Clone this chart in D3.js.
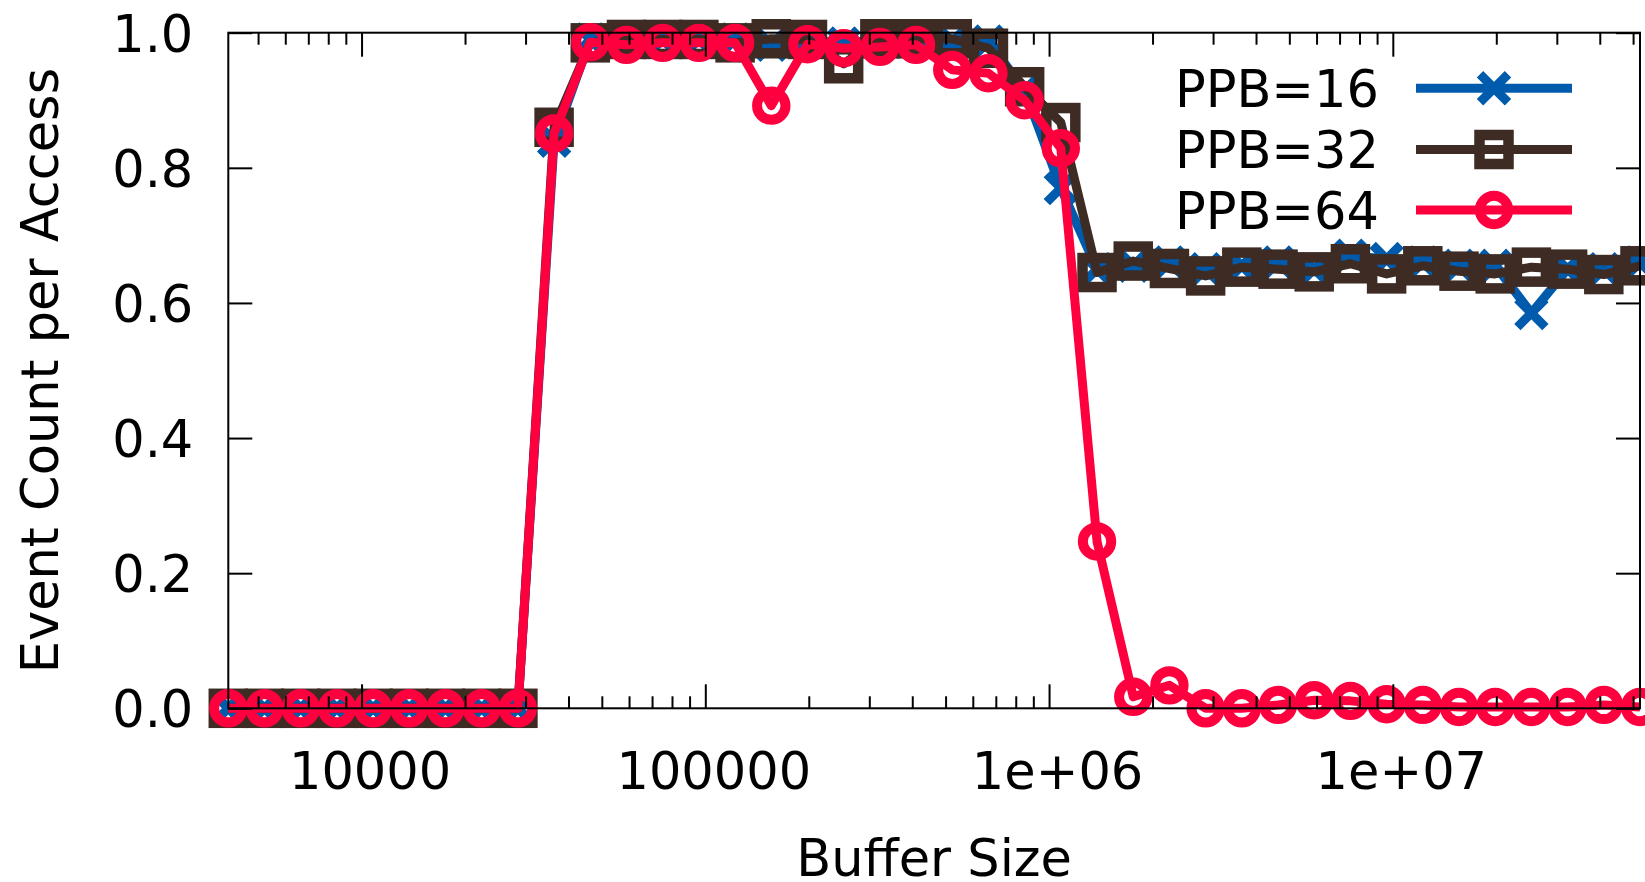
<!DOCTYPE html>
<html>
<head>
<meta charset="utf-8">
<script src="https://cdn.jsdelivr.net/npm/d3@7"></script>
<style>
  body { margin: 0; background: #fff; }
  text { font-family: "DejaVu Sans", sans-serif; }
</style>
</head>
<body>
<div id="chart"></div>
<script>
// buffer sizes (x)
const sizes = [4096, 5219, 6653, 8479, 10804, 13767, 17545, 22360, 28500, 36320,
  46280, 58980, 75160, 95790, 122080, 155570, 198250, 252650, 321960, 410300,
  522880, 666340, 849180, 1082000, 1379000, 1757500, 2239700, 2854000, 3637000, 4636000,
  5907000, 7528000, 9594000, 12226000, 15581000, 19856000, 25304000, 32250000, 41100000, 52370000];

const ppb16 = [0, 0, 0, 0, 0, 0, 0, 0, 0, 0.84,
  0.99, 0.99, 0.99, 0.99, 0.99, 0.982, 0.99, 0.984, 0.99, 0.99,
  0.987, 0.987, 0.915, 0.77, 0.65, 0.655, 0.66, 0.65, 0.655, 0.66,
  0.65, 0.67, 0.665, 0.66, 0.655, 0.655, 0.585, 0.65, 0.65, 0.66];

const ppb32 = [0, 0, 0, 0, 0, 0, 0, 0, 0, 0.86,
  0.985, 0.99, 0.99, 0.99, 0.985, 0.991, 0.99, 0.954, 0.991, 0.991,
  0.991, 0.977, 0.92, 0.867, 0.645, 0.662, 0.651, 0.64, 0.653, 0.65,
  0.646, 0.658, 0.643, 0.655, 0.647, 0.643, 0.653, 0.65, 0.642, 0.655];

const ppb64 = [0, 0, 0, 0, 0, 0, 0, 0, 0, 0.851,
  0.986, 0.982, 0.985, 0.985, 0.985, 0.892, 0.983, 0.977, 0.979, 0.982,
  0.945, 0.94, 0.9, 0.829, 0.247, 0.017, 0.034, 0, 0, 0.005,
  0.012, 0.011, 0.006, 0.005, 0.002, 0.002, 0.002, 0.002, 0.005, 0.002];

const seriesNames = ["PPB=16", "PPB=32", "PPB=64"];
const seriesColors = ["#005bac", "#3d2b24", "#ff003f"];
const seriesMarks = ["cross", "square", "circle"];
const xMajor = [1e4, 1e5, 1e6, 1e7];
const yTicks = [0, 0.2, 0.4, 0.6, 0.8, 1.0];

const width = 1645,
  height = 882;
const margin = { top: 32.7, right: 5, bottom: 173.7, left: 228.3 };

const svg = d3.select("#chart").append("svg").attr("width", width).attr("height", height);

const x = d3.scaleLog().domain([sizes[0], sizes[sizes.length - 1]]).range([margin.left, width - margin.right]);
const y = d3.scaleLinear().domain([0, 1]).range([height - margin.bottom, margin.top]);

// minor ticks 2..9 per decade inside the domain
const xMinor = [];
for (let e = 3; e <= 7; e++) {
  for (let m = 2; m <= 9; m++) {
    const v = m * Math.pow(10, e);
    if (v >= sizes[0] && v <= sizes[sizes.length - 1]) xMinor.push(v);
  }
}

const fontSize = 51;

// data first, border drawn on top like gnuplot does
const plot = svg.append("g");
const series = [ppb16, ppb32, ppb64];

const line = d3.line().x((d, i) => x(sizes[i])).y(d => y(d));

function drawMark(g, type, color) {
  if (type === "circle") {
    g.append("circle").attr("r", 14.2).attr("fill", "none").attr("stroke", color).attr("stroke-width", 10);
  } else if (type === "square") {
    g.append("rect").attr("x", -14.5).attr("y", -14.5).attr("width", 29).attr("height", 29)
      .attr("fill", "none").attr("stroke", color).attr("stroke-width", 10.5);
  } else {
    g.append("path").attr("d", "M-14,-14L14,14M-14,14L14,-14").attr("fill", "none")
      .attr("stroke", color).attr("stroke-width", 9);
  }
}

series.forEach((vals, s) => {
  const color = seriesColors[s];
  plot.append("path")
    .datum(vals)
    .attr("d", line)
    .attr("fill", "none")
    .attr("stroke", color)
    .attr("stroke-width", 9)
    .attr("stroke-linejoin", "round");

  plot.selectAll(null)
    .data(vals)
    .join("g")
    .attr("transform", (d, i) => `translate(${x(sizes[i])},${y(d)})`)
    .each(function () { drawMark(d3.select(this), seriesMarks[s], color); });
});

// axes with inward ticks on all four sides
const axes = svg.append("g");
const x0 = height - margin.bottom,
  x1 = margin.top;

axes.append("g").attr("transform", `translate(0,${x0})`)
  .call(d3.axisBottom(x).tickValues(xMajor).tickSize(-24).tickFormat(d3.format("d")))
  .call(g => g.selectAll("text").attr("x", 8).attr("y", 80.7).attr("dy", 0).attr("font-size", fontSize)
    .text(d => d >= 1e6 ? "1e+0" + Math.log10(d) : d3.format("d")(d)));

axes.append("g").attr("transform", `translate(0,${x0})`)
  .call(d3.axisBottom(x).tickValues(xMinor).tickSize(-12).tickFormat(""));

axes.append("g").attr("transform", `translate(0,${x1})`)
  .call(d3.axisTop(x).tickValues(xMajor).tickSize(-24).tickFormat(""));

axes.append("g").attr("transform", `translate(0,${x1})`)
  .call(d3.axisTop(x).tickValues(xMinor).tickSize(-12).tickFormat(""));

axes.append("g").attr("transform", `translate(${margin.left},0)`)
  .call(d3.axisLeft(y).tickValues(yTicks).tickSize(-24).tickPadding(35).tickFormat(d3.format(".1f")))
  .call(g => g.selectAll("text").attr("dy", "0.36em").attr("font-size", fontSize));

axes.append("g").attr("transform", `translate(${width - margin.right},0)`)
  .call(d3.axisRight(y).tickValues(yTicks).tickSize(-24).tickFormat(""));

axes.selectAll(".domain").remove();
axes.selectAll(".tick line").attr("stroke", "#000").attr("stroke-width", 2);
axes.selectAll(".tick text").attr("fill", "#000").attr("font-family", "DejaVu Sans");

svg.append("rect")
  .attr("x", margin.left)
  .attr("y", margin.top)
  .attr("width", width - margin.right - margin.left)
  .attr("height", height - margin.bottom - margin.top)
  .attr("fill", "none")
  .attr("stroke", "#000")
  .attr("stroke-width", 2);

// axis titles
svg.append("text")
  .attr("x", (margin.left + width - margin.right) / 2)
  .attr("y", 876)
  .attr("text-anchor", "middle")
  .attr("font-size", fontSize)
  .text("Buffer Size");

svg.append("text")
  .attr("transform", `translate(58,${(margin.top + height - margin.bottom) / 2}) rotate(-90)`)
  .attr("text-anchor", "middle")
  .attr("font-size", fontSize)
  .text("Event Count per Access");

// legend, top right inside the plot
const legend = svg.append("g");
const legendRows = [88.3, 149.5, 210];
seriesNames.forEach((name, s) => {
  const row = legend.append("g").attr("transform", `translate(0,${legendRows[s]})`);
  row.append("text")
    .attr("x", 1379)
    .attr("y", 18.5)
    .attr("text-anchor", "end")
    .attr("font-size", fontSize)
    .text(name);
  row.append("line")
    .attr("x1", 1416).attr("x2", 1572)
    .attr("stroke", seriesColors[s])
    .attr("stroke-width", 9);
  drawMark(row.append("g").attr("transform", "translate(1494,0)"), seriesMarks[s], seriesColors[s]);
});
</script>
</body>
</html>
